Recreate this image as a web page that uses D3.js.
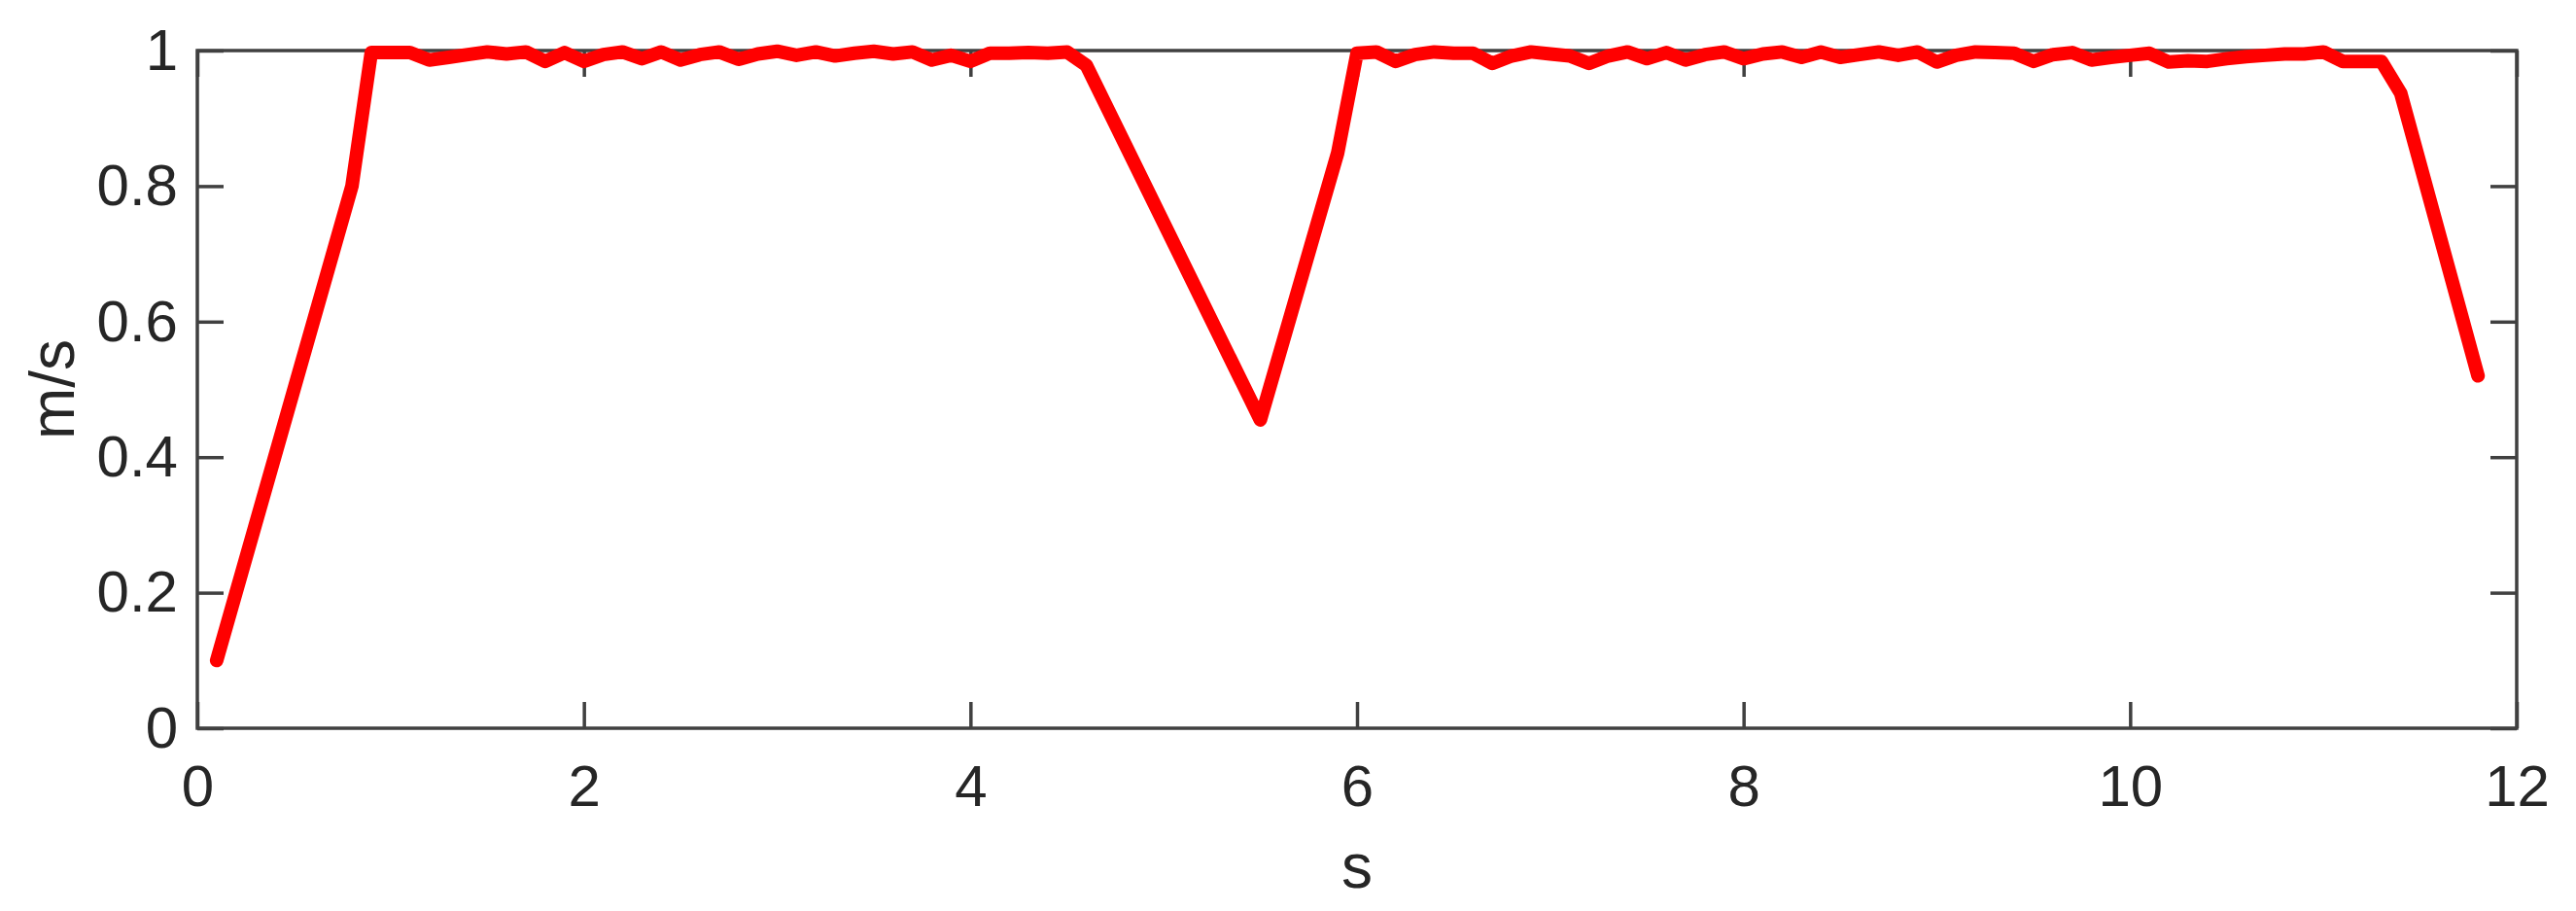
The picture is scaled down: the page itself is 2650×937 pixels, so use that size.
<!DOCTYPE html>
<html>
<head>
<meta charset="utf-8">
<script src="https://cdn.jsdelivr.net/npm/d3@7"></script>
<style>
  body { margin: 0; background: #fff; }
  text { font-family: "Liberation Sans", Arial, sans-serif; fill: #262626; }
</style>
</head>
<body>
<svg id="chart" width="2650" height="937"></svg>
<script>
// time (s) and speed (m/s)
const times = [
    0.1, 0.8, 0.9, 1.0, 1.1, 1.2, 1.3, 1.4, 1.5, 1.6, 1.7, 1.8, 1.9,
    2.0, 2.1, 2.2, 2.3, 2.4, 2.5, 2.6, 2.7, 2.8, 2.9,
    3.0, 3.1, 3.2, 3.3, 3.4, 3.5, 3.6, 3.7, 3.8, 3.9,
    4.0, 4.1, 4.2, 4.3, 4.4, 4.5, 4.6, 5.5, 5.9,
    6.0, 6.1, 6.2, 6.3, 6.4, 6.5, 6.6, 6.7, 6.8, 6.9,
    7.0, 7.1, 7.2, 7.3, 7.4, 7.5, 7.6, 7.7, 7.8, 7.9,
    8.0, 8.1, 8.2, 8.3, 8.4, 8.5, 8.6, 8.7, 8.8, 8.9,
    9.0, 9.1, 9.2, 9.3, 9.4, 9.5, 9.6, 9.7, 9.8, 9.9,
    10.0, 10.1, 10.2, 10.3, 10.4, 10.5, 10.6, 10.7, 10.8, 10.9,
    11.0, 11.1, 11.2, 11.3, 11.4, 11.8
];
const speeds = [
    0.10, 0.80, 0.997, 0.997, 0.997, 0.986, 0.990, 0.994, 0.998, 0.995, 0.998, 0.984, 0.997,
    0.984, 0.994, 0.998, 0.988, 0.998, 0.986, 0.994, 0.998, 0.987, 0.995,
    0.999, 0.993, 0.998, 0.992, 0.996, 0.999, 0.995, 0.998, 0.986, 0.993,
    0.984, 0.996, 0.996, 0.997, 0.996, 0.998, 0.978, 0.455, 0.849,
    0.996, 0.998, 0.984, 0.994, 0.998, 0.996, 0.996, 0.981, 0.992, 0.998,
    0.995, 0.992, 0.981, 0.992, 0.998, 0.988, 0.997, 0.986, 0.994, 0.998,
    0.988, 0.995, 0.998, 0.990, 0.998, 0.990, 0.994, 0.998, 0.993, 0.998,
    0.983, 0.993, 0.998, 0.997, 0.996, 0.984, 0.994, 0.997, 0.986, 0.990,
    0.993, 0.996, 0.983, 0.985, 0.984, 0.988, 0.991, 0.993, 0.995, 0.995,
    0.998, 0.984, 0.984, 0.984, 0.937, 0.52
];
const xTicks = [0, 2, 4, 6, 8, 10, 12];
const yTicks = [0, 0.2, 0.4, 0.6, 0.8, 1];
const xLabel = "s";
const yLabel = "m/s";

const svg = d3.select('#chart');
const margin = { top: 52, right: 61, bottom: 188, left: 203 };
const width = +svg.attr('width') - margin.left - margin.right;
const height = +svg.attr('height') - margin.top - margin.bottom;
const tickLen = 27;
const axisColor = '#404040';

const g = svg.append('g').attr('transform', `translate(${margin.left},${margin.top})`);

const x = d3.scaleLinear().domain([0, 12]).range([0, width]);
const y = d3.scaleLinear().domain([0, 1]).range([height, 0]);

// axes: bottom & left with labels, top & right with ticks only (box on)
function styleAxis(sel) {
    sel.select('.domain').remove();
    sel.selectAll('.tick line').attr('stroke', axisColor).attr('stroke-width', 3.5);
    sel.selectAll('.tick text').attr('font-size', 60).attr('fill', '#262626');
}

g.append('g')
    .attr('transform', `translate(0,${height})`)
    .call(d3.axisBottom(x).tickValues(xTicks).tickSizeInner(-tickLen).tickPadding(37).tickFormat(d3.format('d')))
    .call(styleAxis);

g.append('g')
    .call(d3.axisLeft(y).tickValues(yTicks).tickSizeInner(-tickLen).tickPadding(20).tickFormat(d => d3.format('')(d)))
    .call(styleAxis);

g.append('g')
    .call(d3.axisTop(x).tickValues(xTicks).tickSizeInner(-tickLen).tickFormat(''))
    .call(styleAxis);

g.append('g')
    .attr('transform', `translate(${width},0)`)
    .call(d3.axisRight(y).tickValues(yTicks).tickSizeInner(-tickLen).tickFormat(''))
    .call(styleAxis);

// box
g.append('rect')
    .attr('width', width)
    .attr('height', height)
    .attr('fill', 'none')
    .attr('stroke', axisColor)
    .attr('stroke-width', 3.5);

// the speed line
const points = times.map((t, i) => [t, speeds[i]]);
const line = d3.line()
    .x(d => x(d[0]))
    .y(d => y(d[1]));

g.append('path')
    .datum(points)
    .attr('d', line)
    .attr('fill', 'none')
    .attr('stroke', '#ff0000')
    .attr('stroke-width', 14)
    .attr('stroke-linejoin', 'round')
    .attr('stroke-linecap', 'round');

// axis labels
svg.append('text')
    .attr('x', margin.left + width / 2)
    .attr('y', 913)
    .attr('text-anchor', 'middle')
    .attr('font-size', 64)
    .text(xLabel);

svg.append('text')
    .attr('transform', `translate(76,${margin.top + height / 2}) rotate(-90)`)
    .attr('text-anchor', 'middle')
    .attr('font-size', 64)
    .text(yLabel);
</script>
</body>
</html>
